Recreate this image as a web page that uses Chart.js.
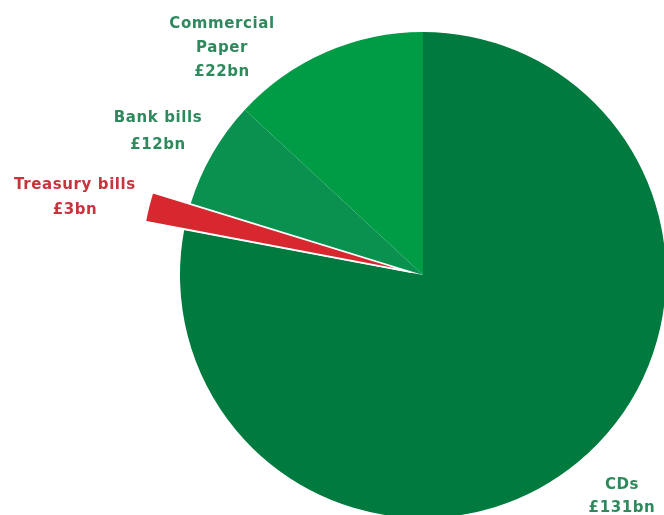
<!DOCTYPE html>
<html>
<head>
<meta charset="utf-8">
<script src="https://cdn.jsdelivr.net/npm/chart.js@4/dist/chart.umd.min.js"></script>
<style>
  html, body { margin: 0; padding: 0; background: #fff; }
  #wrap { width: 664px; height: 515px; position: relative; }
</style>
</head>
<body>
<div id="wrap"><canvas id="pie"></canvas></div>
<script>
// Sterling money market instruments outstanding (£bn)
const categories = ['CDs', 'Treasury bills', 'Bank bills', 'Commercial Paper'];
const amounts = [131, 3, 12, 22];
const sliceColours = ['#007a3e', '#d7282f', '#0a9150', '#009b45'];

// label lines: name (may wrap) then the amount
const labelLines = [
  ['CDs'],
  ['Treasury bills'],
  ['Bank bills'],
  ['Commercial', 'Paper']
];
const labelColours = ['#2e8a5c', '#c9333d', '#2e8a5c', '#2e8a5c'];
// where each label block sits (centre x, first line y, line step)
const labelSpots = [
  { x: 622, y: 485, step: 23 },
  { x: 75, y: 185, step: 25 },
  { x: 158, y: 118, step: 27 },
  { x: 222, y: 24, step: 24 }
];

const fmt = v => '£' + v + 'bn';

// treasury slice is pulled out a little and drawn longer than the rest
const pullOut = { index: 1, shift: 12, grow: 28 };

const explode = {
  id: 'explode',
  afterUpdate(chart) {
    const arc = chart.getDatasetMeta(0).data[pullOut.index];
    if (!arc) return;
    const mid = (arc.startAngle + arc.endAngle) / 2;
    arc.x += Math.cos(mid) * pullOut.shift;
    arc.y += Math.sin(mid) * pullOut.shift;
    arc.outerRadius += pullOut.grow;
  }
};

const pieLabels = {
  id: 'pieLabels',
  afterDraw(chart) {
    const ctx = chart.ctx;
    ctx.save();
    ctx.font = 'bold 15px "DejaVu Sans", sans-serif';
    ctx.letterSpacing = '0.6px';
    ctx.textAlign = 'center';
    ctx.textBaseline = 'middle';
    categories.forEach((c, i) => {
      const spot = labelSpots[i];
      const lines = labelLines[i].concat(fmt(amounts[i]));
      ctx.fillStyle = labelColours[i];
      lines.forEach((t, j) => ctx.fillText(t, spot.x, spot.y + j * spot.step));
    });
    ctx.restore();
  }
};

new Chart(document.getElementById('pie'), {
  type: 'pie',
  data: {
    labels: categories,
    datasets: [{
      data: amounts,
      backgroundColor: sliceColours,
      borderColor: '#ffffff',
      borderWidth: [0, 2, 0, 0],
      clip: false
    }]
  },
  options: {
    responsive: true,
    maintainAspectRatio: false,
    animation: false,
    radius: 243,
    layout: { padding: { left: 182, right: 0, top: 35, bottom: 0 } },
    plugins: {
      legend: { display: false },
      tooltip: { enabled: false }
    }
  },
  plugins: [explode, pieLabels]
});
</script>
</body>
</html>
